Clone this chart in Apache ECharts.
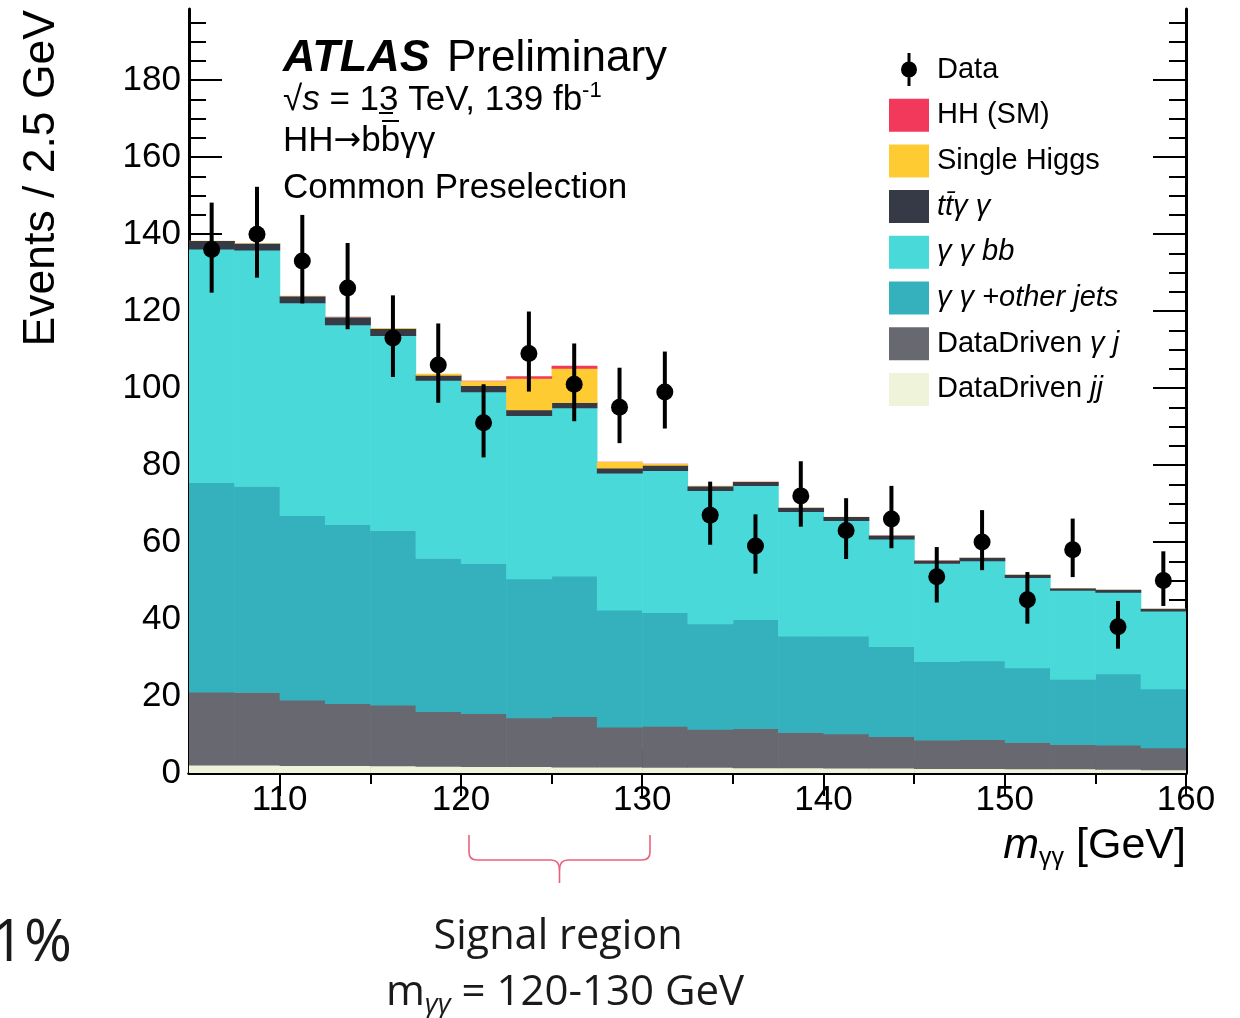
<!DOCTYPE html>
<html><head><meta charset="utf-8">
<script src="https://cdn.jsdelivr.net/npm/echarts@6/dist/echarts.min.js"></script>
<style>html,body{margin:0;padding:0;background:#fff;}#c{width:1240px;height:1018px;}</style>
</head><body><div id="c"></div>
<script>
// ---- data ----
const binEdges = [105,107.5,110,112.5,115,117.5,120,122.5,125,127.5,130,132.5,135,137.5,140,142.5,145,147.5,150,152.5,155,157.5,160];
const dataCounts = [136,140,133,126,113,106,91,109,101,95,99,67,59,72,63,66,51,60,45,58,38,50];
const dataErrUp = [12.2,12.3,12.0,11.7,11.1,10.8,10.0,10.9,10.6,10.3,10.5,8.7,8.2,9.0,8.4,8.6,7.7,8.3,7.2,8.1,6.7,7.6];
const dataErrDown = [11.2,11.3,11.0,10.7,10.1,9.8,9.0,9.9,9.6,9.3,9.5,7.7,7.2,8.0,7.4,7.6,6.7,7.3,6.2,7.1,5.7,6.6];
const ddJj = [2.1,2.1,2.0,2.0,1.9,1.8,1.7,1.7,1.6,1.6,1.5,1.5,1.4,1.4,1.3,1.3,1.2,1.2,1.1,1.1,1.0,0.9];
const ddYj = [19.0,18.9,17.0,16.1,15.8,14.2,13.8,12.7,13.1,10.4,10.7,9.9,10.2,9.2,8.9,8.2,7.4,7.5,6.9,6.4,6.3,5.7];
const yyOtherJets = [54.4,53.5,47.9,46.5,45.3,39.8,39.0,36.1,36.5,30.4,29.5,27.4,28.3,25.0,25.4,23.4,20.4,20.5,19.4,16.9,18.5,15.3];
const yybb = [60.7,61.4,55.3,51.9,50.7,46.3,44.6,42.4,43.7,35.6,36.9,34.6,34.8,32.4,30.0,27.9,25.5,26.0,23.4,23.1,21.2,20.2];
const ttyy = [2.0,1.7,1.7,1.9,1.7,1.3,1.6,1.5,1.4,1.3,1.4,1.1,0.9,0.9,0.9,0.9,0.7,0.7,0.7,0.5,0.6,0.6];
const singleHiggs = [0.1,0.1,0.1,0.1,0.2,0.3,1.1,8.2,8.9,1.5,0.3,0.1,0.1,0.1,0.1,0.1,0.1,0.1,0.05,0.05,0.05,0.05];
const hhSM = [0.01,0.01,0.01,0.01,0.02,0.03,0.1,0.5,0.6,0.1,0.02,0.01,0.01,0.01,0.01,0.01,0.01,0.01,0.01,0.01,0.01,0.01];
const xMajorTicks = [110,120,130,140,150,160];
const xMinorTicks = [115,125,135,145,155];
const yMajorTicks = [0,20,40,60,80,100,120,140,160,180];
const yMinorTicks = [5,10,15,25,30,35,45,50,55,65,70,75,85,90,95,105,110,115,125,130,135,145,150,155,165,170,175,185,190,195];

const FONT = '"Liberation Sans", Arial, Helvetica, sans-serif';
const SLIDE = '"Open Sans", sans-serif';
const components = [
  {name:'DataDriven jj', values: ddJj, color:'#eff3d9'},
  {name:'DataDriven γj', values: ddYj, color:'#676870'},
  {name:'γγ+other jets', values: yyOtherJets, color:'#35b1be'},
  {name:'γγbb', values: yybb, color:'#4ad9d9'},
  {name:'ttγγ', values: ttyy, color:'#363946'},
  {name:'Single Higgs', values: singleHiggs, color:'#ffcb32'},
  {name:'HH (SM)', values: hhSM, color:'#f2385b'}
];

function renderBin(params, api){
  const a = api.coord([api.value(0), api.value(2)]);
  const b = api.coord([api.value(1), api.value(3)]);
  const h = a[1]-b[1];
  const ov = h > 1 ? 0.6 : 0;
  return {type:'rect', shape:{x:a[0], y:b[1], width:b[0]-a[0]+0.6, height:h+ov},
          style:{fill: api.visual('color')}};
}

const series = [];
const base = dataCounts.map(()=>0);
components.forEach(c=>{
  const d = c.values.map((v,i)=>{
    const r = [binEdges[i], binEdges[i+1], base[i], base[i]+v];
    base[i] += v;
    return r;
  });
  series.push({type:'custom', name:c.name, renderItem:renderBin, data:d, xAxisIndex:0, yAxisIndex:0,
    encode:{x:[0,1], y:[2,3]}, itemStyle:{color:c.color}, clip:true, silent:true});
});

const centers = dataCounts.map((v,i)=>(binEdges[i]+binEdges[i+1])/2);
series.push({type:'custom', name:'DataErr', silent:true, z:5, xAxisIndex:0, yAxisIndex:0,
  data: dataCounts.map((v,i)=>[centers[i], v-dataErrDown[i], v+dataErrUp[i]]),
  encode:{x:0, y:[1,2]},
  renderItem:function(params, api){
    const p1 = api.coord([api.value(0), api.value(1)]);
    const p2 = api.coord([api.value(0), api.value(2)]);
    return {type:'line', shape:{x1:p1[0], y1:p1[1], x2:p2[0], y2:p2[1]},
            style:{stroke:'#000', lineWidth:4}};
  }});
series.push({type:'scatter', name:'Data', z:6, symbol:'circle', symbolSize:17, xAxisIndex:0, yAxisIndex:0,
  itemStyle:{color:'#000', opacity:1}, data: dataCounts.map((v,i)=>[centers[i], v]), silent:true});

const xBase = {type:'value', min:105, max:160, splitLine:{show:false}};
const yBase = {type:'value', min:0, max:198.5, splitLine:{show:false}};
const line = {show:true, lineStyle:{color:'#000', width:3}};
const xAxes = [
  Object.assign({}, xBase, {position:'bottom', axisLine:line,
    axisTick:{show:true, inside:true, length:23, lineStyle:{color:'#000', width:2}, customValues:xMajorTicks},
    axisLabel:{show:true, customValues:xMajorTicks, fontSize:35, fontFamily:FONT, color:'#000', margin:10}}),
  Object.assign({}, xBase, {position:'bottom', axisLine:{show:false},
    axisTick:{show:true, inside:true, length:11, lineStyle:{color:'#000', width:2}, customValues:xMinorTicks},
    axisLabel:{show:false}}),
  Object.assign({}, xBase, {position:'top', axisLine:line,
    axisTick:{show:true, inside:true, length:23, lineStyle:{color:'#000', width:2}, customValues:xMajorTicks},
    axisLabel:{show:false}}),
  Object.assign({}, xBase, {position:'top', axisLine:{show:false},
    axisTick:{show:true, inside:true, length:11, lineStyle:{color:'#000', width:2}, customValues:xMinorTicks},
    axisLabel:{show:false}})
];
const yAxes = [
  Object.assign({}, yBase, {position:'left', axisLine:line,
    axisTick:{show:true, inside:true, length:33, lineStyle:{color:'#000', width:2}, customValues:yMajorTicks},
    axisLabel:{show:true, customValues:yMajorTicks, fontSize:35, fontFamily:FONT, color:'#000', margin:8}}),
  Object.assign({}, yBase, {position:'left', axisLine:{show:false},
    axisTick:{show:true, inside:true, length:17, lineStyle:{color:'#000', width:2}, customValues:yMinorTicks},
    axisLabel:{show:false}}),
  Object.assign({}, yBase, {position:'right', axisLine:line,
    axisTick:{show:true, inside:true, length:33, lineStyle:{color:'#000', width:2}, customValues:yMajorTicks},
    axisLabel:{show:false}}),
  Object.assign({}, yBase, {position:'right', axisLine:{show:false},
    axisTick:{show:true, inside:true, length:17, lineStyle:{color:'#000', width:2}, customValues:yMinorTicks},
    axisLabel:{show:false}})
];

const legendLabels = {
  'Data':'Data', 'HH (SM)':'HH (SM)', 'Single Higgs':'Single Higgs',
  'ttγγ':'{it|tt\u0304γ γ}', 'γγbb':'{it|γ γ bb}', 'γγ+other jets':'{it|γ γ +other jets}',
  'DataDriven γj':'DataDriven {it|γ j}', 'DataDriven jj':'DataDriven {it|jj}'
};
const dataIcon = 'path://M18.5,0 L21.5,0 L21.5,33 L18.5,33 Z M12,16.5 A8,8 0 1,1 28,16.5 A8,8 0 1,1 12,16.5 Z';
const braceStyle = {stroke:'#ec5f7e', lineWidth:1.6, fill:null};

const option = {
  backgroundColor:'#fff',
  animation:false,
  grid:{left:189, right:54, top:9, bottom:245, containLabel:false},
  xAxis: xAxes,
  yAxis: yAxes,
  legend:{
    orient:'vertical', left:889, top:53, padding:0, itemWidth:40, itemHeight:33, itemGap:12.7,
    icon:'rect', selectedMode:false,
    data:[{name:'Data', icon:dataIcon, itemStyle:{color:'#000', opacity:1}}, 'HH (SM)', 'Single Higgs', 'ttγγ', 'γγbb', 'γγ+other jets', 'DataDriven γj', 'DataDriven jj'],
    formatter: n => legendLabels[n],
    textStyle:{fontFamily:FONT, fontSize:29, color:'#000', padding:[0,0,0,3],
      rich:{it:{fontFamily:FONT, fontSize:29, fontStyle:'italic', color:'#000'}}}
  },
  series: series,
  graphic:[
    {type:'text', x:42, y:10, rotation:Math.PI/2,
      style:{text:'Events / 2.5 GeV', fontFamily:FONT, fontSize:44.5, fill:'#000', align:'right', textAlign:'right', verticalAlign:'middle', textVerticalAlign:'middle'}},
    {type:'text', x:1186, y:846,
      style:{text:'{m|m}{s|γγ}{n| [GeV]}', align:'right', textAlign:'right', verticalAlign:'middle', textVerticalAlign:'middle', fill:'#000',
        rich:{m:{fontFamily:FONT, fontSize:43, fontStyle:'italic', lineHeight:50, verticalAlign:'middle'},
              s:{fontFamily:FONT, fontSize:25, verticalAlign:'bottom'},
              n:{fontFamily:FONT, fontSize:43, lineHeight:50, verticalAlign:'middle'}}}},
    {type:'text', x:283, y:59,
      style:{text:'ATLAS', fontFamily:FONT, fontSize:45, fontWeight:'bold', fontStyle:'italic', fill:'#000', verticalAlign:'middle', textVerticalAlign:'middle'}},
    {type:'text', x:447, y:59,
      style:{text:'Preliminary', fontFamily:FONT, fontSize:44, fill:'#000', verticalAlign:'middle', textVerticalAlign:'middle'}},
    {type:'text', x:283, y:100,
      style:{text:'√{i|s} = 13 TeV, 139 fb{sup|-1}', fontFamily:FONT, fontSize:35, fill:'#000', verticalAlign:'middle', textVerticalAlign:'middle',
        rich:{i:{fontFamily:FONT, fontSize:35, fontStyle:'italic', lineHeight:40, verticalAlign:'middle'},
              sup:{fontFamily:FONT, fontSize:22, verticalAlign:'top'}}}},
    {type:'text', x:283, y:141,
      style:{text:'HH{a|→}bbγγ', fontFamily:FONT, fontSize:35, fill:'#000', verticalAlign:'middle', textVerticalAlign:'middle',
        rich:{a:{fontFamily:'"DejaVu Sans"', fontSize:33, verticalAlign:'middle'}}}},
    {type:'line', shape:{x1:379, y1:113, x2:393, y2:113}, style:{stroke:'#000', lineWidth:2}},
    {type:'line', shape:{x1:382, y1:121, x2:399, y2:121}, style:{stroke:'#000', lineWidth:2}},
    {type:'text', x:283, y:188,
      style:{text:'Common Preselection', fontFamily:FONT, fontSize:35, fill:'#000', verticalAlign:'middle', textVerticalAlign:'middle'}},
    {type:'line', shape:{x1:469, y1:835, x2:469, y2:852}, style:braceStyle},
    {type:'bezierCurve', shape:{x1:469, y1:852, cpx1:469, cpy1:860, x2:477, y2:860}, style:braceStyle},
    {type:'line', shape:{x1:477, y1:860, x2:551, y2:860}, style:braceStyle},
    {type:'bezierCurve', shape:{x1:551, y1:860, cpx1:559.5, cpy1:860, x2:559.5, y2:870}, style:braceStyle},
    {type:'line', shape:{x1:559.5, y1:870, x2:559.5, y2:883}, style:braceStyle},
    {type:'bezierCurve', shape:{x1:568, y1:860, cpx1:559.5, cpy1:860, x2:559.5, y2:870}, style:braceStyle},
    {type:'line', shape:{x1:568, y1:860, x2:642, y2:860}, style:braceStyle},
    {type:'bezierCurve', shape:{x1:642, y1:860, cpx1:650, cpy1:860, x2:650, y2:852}, style:braceStyle},
    {type:'line', shape:{x1:650, y1:852, x2:650, y2:835}, style:braceStyle},
    {type:'text', x:558, y:937,
      style:{text:'Signal region', fontFamily:SLIDE, fontSize:41.5, fill:'#1a1a1a', align:'center', textAlign:'center', verticalAlign:'middle', textVerticalAlign:'middle'}},
    {type:'text', x:565, y:993,
      style:{text:'{n|m}{s|γγ}{n| = 120-130 GeV}', align:'center', textAlign:'center', verticalAlign:'middle', textVerticalAlign:'middle', fill:'#1a1a1a',
        rich:{n:{fontFamily:SLIDE, fontSize:42, lineHeight:52, verticalAlign:'middle'},
              s:{fontFamily:SLIDE, fontSize:28, fontStyle:'italic', verticalAlign:'bottom'}}}},
    {type:'text', x:72, y:944,
      style:{text:'1%', fontFamily:SLIDE, fontSize:58, fill:'#1a1a1a', align:'right', textAlign:'right', verticalAlign:'middle', textVerticalAlign:'middle'}}
  ]
};
const chart = echarts.init(document.getElementById('c'), null, {renderer:'canvas'});
chart.setOption(option);
</script></body></html>
